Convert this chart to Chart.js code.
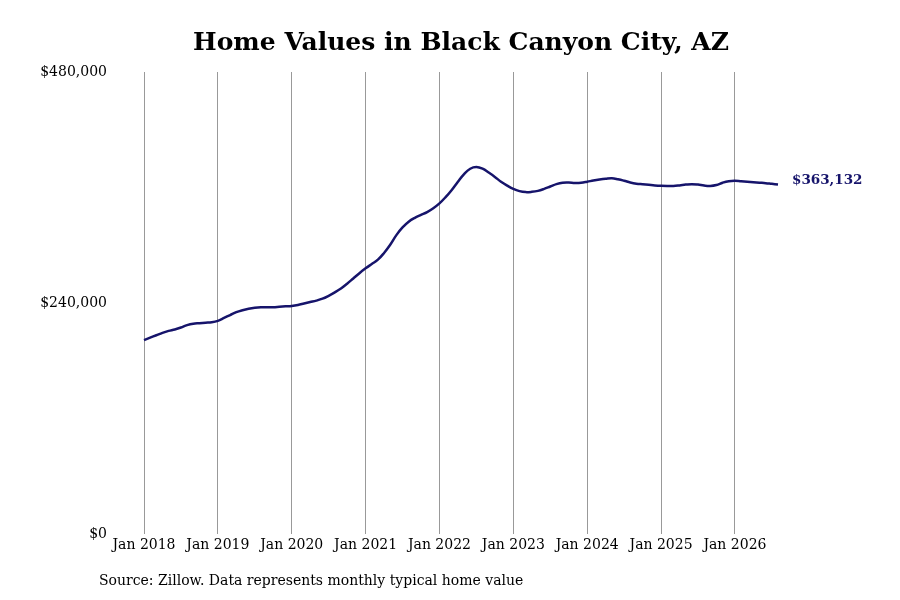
<!DOCTYPE html>
<html>
<head>
<meta charset="utf-8">
<script src="https://cdn.jsdelivr.net/npm/chart.js@4/dist/chart.umd.min.js"></script>
<style>
  html, body { margin: 0; padding: 0; background: #fff; }
  #wrap { width: 900px; height: 600px; }
</style>
</head>
<body>
<div id="wrap"><canvas id="c" width="900" height="600"></canvas></div>
<script>
// Monthly typical home value, Jan 2018 .. Aug 2026 (month index 0 = Jan 2018)
const startYear = 2018;
const homeValues = [
  201500, 204000, 206500, 209000, 211000, 212500, 214500, 217000, 218500, 219000, 219500, 220000,
  221500, 224500, 227500, 230500, 232500, 234000, 235000, 235500, 235500, 235500, 236000, 236500,
  237000, 238000, 239500, 241000, 242500, 244500, 247500, 251000, 255000, 260000, 265500, 271000,
  276000, 280500, 285000, 292000, 300500, 310500, 318500, 324500, 328500, 331500, 334500, 338500,
  343500, 350000, 357500, 366000, 374000, 379500, 381200, 379500, 375500, 371000, 366000, 362000,
  358500, 356200, 355200, 355500, 356500, 358500, 361000, 363500, 365000, 365200, 364800, 365000,
  366000, 367200, 368200, 369000, 369500, 368500, 367000, 365200, 364000, 363400, 362800, 362200,
  361800, 361600, 361600, 362200, 363000, 363500, 363000, 362000, 361600, 362600, 365000, 366600,
  367000, 366500, 366000, 365500, 365000, 364500, 363800, 363132
];
const yTicks = [0, 240000, 480000];
const xTickMonths = [0, 12, 24, 36, 48, 60, 72, 84, 96];
const titleText = 'Home Values in Black Canyon City, AZ';
const sourceText = 'Source: Zillow. Data represents monthly typical home value';

const navy = '#16146b';
const serif = "'DejaVu Serif', serif";

const points = homeValues.map((v, i) => ({ x: i, y: v }));
const fmt = v => '$' + Math.round(v).toLocaleString('en-US');

const extras = {
  id: 'extras',
  afterDatasetsDraw(chart) {
    const ctx = chart.ctx;
    const meta = chart.getDatasetMeta(0);
    const last = meta.data[meta.data.length - 1];
    ctx.save();
    ctx.font = 'bold 13.5px ' + serif;
    ctx.fillStyle = navy;
    ctx.textAlign = 'left';
    ctx.textBaseline = 'middle';
    ctx.fillText(fmt(homeValues[homeValues.length - 1]), last.x + 14, last.y - 4);
    ctx.restore();
  },
  afterDraw(chart) {
    const ctx = chart.ctx;
    ctx.save();
    ctx.fillStyle = '#000';
    ctx.textBaseline = 'middle';
    ctx.font = 'bold 25px ' + serif;
    ctx.textAlign = 'center';
    ctx.fillText(titleText, 461, 43);
    ctx.font = '14px ' + serif;
    ctx.textAlign = 'left';
    ctx.fillText(sourceText, 99, 581);
    ctx.restore();
  }
};

new Chart(document.getElementById('c'), {
  type: 'line',
  data: {
    datasets: [{
      data: points,
      borderColor: navy,
      borderWidth: 2.5,
      pointRadius: 0,
      tension: 0.4,
      fill: false,
      clip: false
    }]
  },
  options: {
    responsive: false,
    animation: false,
    layout: { padding: { left: 0, right: 122, top: 72, bottom: 0 } },
    plugins: {
      legend: { display: false },
      tooltip: { enabled: false },
      title: { display: false }
    },
    scales: {
      x: {
        type: 'linear',
        min: 0,
        max: homeValues.length - 1,
        afterBuildTicks: s => { s.ticks = xTickMonths.map(v => ({ value: v })); },
        afterFit: s => { s.height = 66; },
        ticks: {
          autoSkip: false,
          maxRotation: 0,
          padding: 3,
          color: '#000',
          font: { family: serif, size: 14 },
          callback: v => 'Jan ' + (startYear + Math.round(v / 12))
        },
        grid: { color: '#999', lineWidth: 1, drawTicks: false },
        border: { display: false }
      },
      y: {
        min: 0,
        max: 480000,
        afterBuildTicks: s => { s.ticks = yTicks.map(v => ({ value: v })); },
        afterFit: s => { s.width = 144; },
        ticks: {
          padding: 37,
          color: '#000',
          font: { family: serif, size: 14 },
          callback: v => fmt(v)
        },
        grid: { display: false, drawTicks: false },
        border: { display: false }
      }
    }
  },
  plugins: [extras]
});
</script>
</body>
</html>
